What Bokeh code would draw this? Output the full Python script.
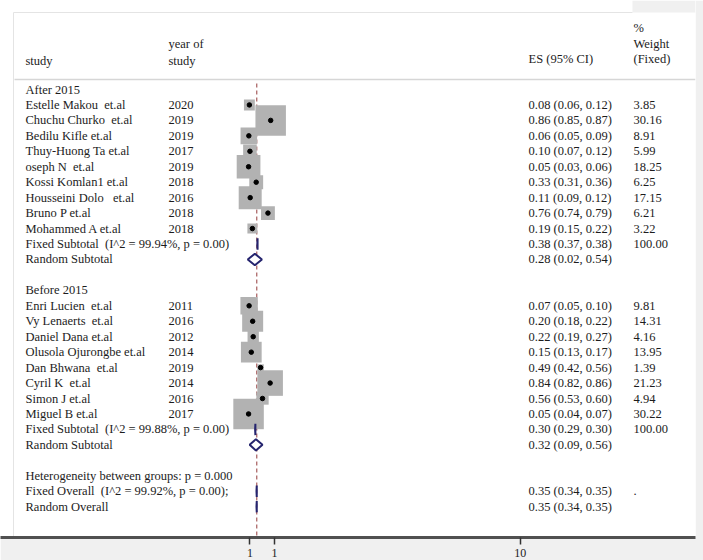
import re
import numpy as np
from bokeh.plotting import figure
from bokeh.models import Range1d, FixedTicker, ColumnDataSource
from bokeh.core.properties import value
from bokeh.embed import file_html
from bokeh.resources import INLINE

# ---------------- data ----------------
after_study = ["Estelle Makou  et.al", "Chuchu Churko  et.al", "Bedilu Kifle et.al",
               "Thuy-Huong Ta et.al", "oseph N  et.al", "Kossi Komlan1 et.al",
               "Housseini Dolo   et.al", "Bruno P et.al", "Mohammed A et.al"]
after_year = [2020, 2019, 2019, 2017, 2019, 2018, 2016, 2018, 2018]
after_es = [0.08, 0.86, 0.06, 0.10, 0.05, 0.33, 0.11, 0.76, 0.19]
after_lci = [0.06, 0.85, 0.05, 0.07, 0.03, 0.31, 0.09, 0.74, 0.15]
after_uci = [0.12, 0.87, 0.09, 0.12, 0.06, 0.36, 0.12, 0.79, 0.22]
after_weight = [3.85, 30.16, 8.91, 5.99, 18.25, 6.25, 17.15, 6.21, 3.22]

before_study = ["Enri Lucien  et.al", "Vy Lenaerts  et.al", "Daniel Dana et.al",
                "Olusola Ojurongbe et.al", "Dan Bhwana  et.al", "Cyril K  et.al",
                "Simon J et.al", "Miguel B et.al"]
before_year = [2011, 2016, 2012, 2014, 2019, 2014, 2016, 2017]
before_es = [0.07, 0.20, 0.22, 0.15, 0.49, 0.84, 0.56, 0.05]
before_lci = [0.05, 0.18, 0.19, 0.13, 0.42, 0.82, 0.53, 0.04]
before_uci = [0.10, 0.22, 0.27, 0.17, 0.56, 0.86, 0.60, 0.07]
before_weight = [9.81, 14.31, 4.16, 13.95, 1.39, 21.23, 4.94, 30.22]

# pooled estimates (subgroups, then overall)
pooled_label = ["Fixed Subtotal  (I^2 = 99.94%, p = 0.00)", "Random Subtotal",
                "Fixed Subtotal  (I^2 = 99.88%, p = 0.00)", "Random Subtotal",
                "Fixed Overall  (I^2 = 99.92%, p = 0.00);", "Random Overall"]
pooled_es = [0.38, 0.28, 0.30, 0.32, 0.35, 0.35]
pooled_lci = [0.37, 0.02, 0.29, 0.09, 0.34, 0.34]
pooled_uci = [0.38, 0.54, 0.30, 0.56, 0.35, 0.35]
pooled_weight = ["100.00", "", "100.00", "", ".", ""]

group_labels = ["After 2015", "Before 2015"]
heterogeneity_note = "Heterogeneity between groups: p = 0.000"

x_ticks = [0.1, 1, 10]
x_tick_labels = ["1", "1", "10"]

# ---------------- layout ----------------
PX0, PX_PER_UNIT = 246.7, 27.3      # where ES = 0 sits, and pixels per ES unit
ROW0_PX, ROW_PX = 89.0, 15.45       # first table row centre, row pitch
FRAME_W, FRAME_H = 695, 537


def col(px):
    """Horizontal pixel offset -> ES units."""
    return (px - PX0) / PX_PER_UNIT


def row_of(px):
    """Vertical pixel offset -> row units."""
    return (px - ROW0_PX) / ROW_PX


def keep_spaces(s):
    """Keep runs of spaces visible in the rendered text."""
    return re.sub(r" (?= )", "\u00a0", s)


X_LO, X_HI = col(0), col(FRAME_W)
Y_TOP, Y_BOTTOM = row_of(0), row_of(FRAME_H)

COL_STUDY, COL_YEAR, COL_ES, COL_WT = col(25), col(168), col(528), col(633)

# row indices
after_head = 0
after_rows = [after_head + 1 + i for i in range(len(after_study))]
before_head = after_rows[-1] + 4
before_rows = [before_head + 1 + i for i in range(len(before_study))]
het_row = before_rows[-1] + 4
pooled_rows = [after_rows[-1] + 1, after_rows[-1] + 2,
               before_rows[-1] + 1, before_rows[-1] + 2,
               het_row + 1, het_row + 2]

FONT = value("Liberation Serif")
FSIZE = "12.5px"
TXT = "#1c1c1c"
NAVY = "#25246e"

p = figure(width=703, height=560, output_backend="svg", toolbar_location=None,
           x_range=Range1d(X_LO, X_HI), y_range=Range1d(Y_BOTTOM, Y_TOP),
           y_axis_location=None,
           min_border_left=0, min_border_top=0, min_border_right=8, min_border_bottom=23,
           background_fill_color="white", border_fill_color="#f0f0f0")
p.grid.visible = False
p.outline_line_color = None

# window chrome: light strip top-right, faint panel edges
p.quad(left=[col(632)], right=[X_HI], top=[Y_TOP], bottom=[row_of(12)],
       fill_color="#f0f0f0", line_color=None)
p.segment(x0=[col(13), col(13)], y0=[row_of(12), row_of(12)],
          x1=[col(13), col(632)], y1=[Y_BOTTOM, row_of(12)],
          line_color="#e4e4e4", line_width=1)
# header separator
p.segment(x0=[col(14)], y0=[row_of(79)], x1=[X_HI], y1=[row_of(79)],
          line_color="#d6d6d6", line_width=1.6)

# reference line at the overall estimate
p.segment(x0=[pooled_es[4]], y0=[row_of(83)], x1=[pooled_es[4]], y1=[Y_BOTTOM],
          line_color="#a65c5c", line_width=1.2, line_dash="4 3")

# ---------------- study markers ----------------
es = after_es + before_es
lci = after_lci + before_lci
uci = after_uci + before_uci
wt = after_weight + before_weight
rows = after_rows + before_rows
side = [30.5 * np.sqrt(w / 30.2) for w in wt]

src = ColumnDataSource(dict(es=es, lci=lci, uci=uci, row=rows, side=side))
p.rect(x="es", y="row", width="side", height="side", width_units="screen",
       height_units="screen", source=src, fill_color="#b2b2b2", line_color=None)
p.segment(x0="lci", y0="row", x1="uci", y1="row", source=src,
          line_color="black", line_width=1)
p.scatter(x="es", y="row", size=4.5, source=src, color="black")

# ---------------- pooled diamonds ----------------
H = 0.37
xs = [[l, e, u, e] for e, l, u in zip(pooled_es, pooled_lci, pooled_uci)]
ys = [[r, r - H, r, r + H] for r in pooled_rows]
p.patches(xs=xs, ys=ys, fill_color="white", line_color=NAVY, line_width=2)

# ---------------- table text ----------------
def put(x, y, text):
    p.text(x=[x] * len(y), y=y, text=[keep_spaces(t) for t in text],
           text_font=FONT, text_font_size=FSIZE,
           text_baseline="middle", text_align="left", text_color=TXT)


put(COL_STUDY, [row_of(60)], ["study"])
put(COL_YEAR, [row_of(43), row_of(60)], ["year of", "study"])
put(COL_ES, [row_of(58)], ["ES (95% CI)"])
put(COL_WT, [row_of(27), row_of(43), row_of(58)], ["%", "Weight", "(Fixed)"])

put(COL_STUDY, [after_head, before_head, het_row], group_labels + [heterogeneity_note])
put(COL_STUDY, rows, after_study + before_study)
put(COL_YEAR, rows, [str(y) for y in after_year + before_year])
put(COL_ES, rows, [f"{e:.2f} ({l:.2f}, {u:.2f})" for e, l, u in zip(es, lci, uci)])
put(COL_WT, rows, [f"{w:.2f}" for w in wt])

put(COL_STUDY, pooled_rows, pooled_label)
put(COL_ES, pooled_rows,
    [f"{e:.2f} ({l:.2f}, {u:.2f})" for e, l, u in zip(pooled_es, pooled_lci, pooled_uci)])
put(COL_WT, pooled_rows, pooled_weight)

# ---------------- axis ----------------
ax = p.xaxis[0]
ax.ticker = FixedTicker(ticks=x_ticks)
ax.major_label_overrides = dict(zip(x_ticks, x_tick_labels))
ax.minor_tick_line_color = None
ax.axis_line_color = "#505050"
ax.axis_line_width = 3
ax.major_tick_line_color = "#333333"
ax.major_tick_line_width = 1.5
ax.major_tick_in = 0
ax.major_tick_out = 7
ax.major_label_standoff = 4
ax.major_label_text_font = "Liberation Serif"
ax.major_label_text_font_size = "12px"
ax.major_label_text_color = TXT

open("out.html", "w").write(file_html(p, INLINE))
